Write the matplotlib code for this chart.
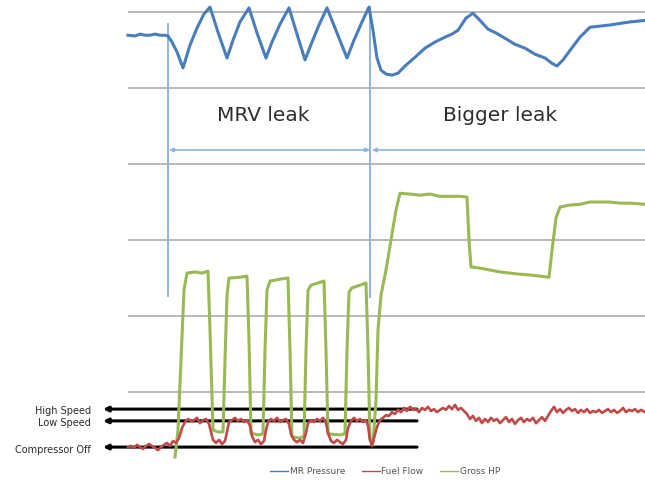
import matplotlib
matplotlib.use("Agg")
import matplotlib.pyplot as plt

# time axis is in samples, all traces share one 0-100 scale
grid_levels = [0, 20, 40, 60, 80, 100]

mr_t = [0, 7, 12, 17, 22, 27, 32, 37, 40, 44, 49, 55, 62, 69, 76, 82, 90, 99, 105, 112,
        121, 129, 138, 144, 152, 161, 169, 177, 184, 191, 199, 209, 219, 226, 234, 241,
        245, 249, 253, 258, 264, 270, 277, 287, 297, 307, 317, 324, 330, 338, 345, 352,
        360, 368, 377, 387, 397, 407, 417, 424, 429, 435, 442, 452, 462, 472, 482, 492,
        502, 510, 517]
mr_pressure = [93.9, 93.7, 94.2, 93.9, 93.9, 94.2, 93.9, 93.9, 93.7, 92.1, 89.5, 85.3, 91.3,
               95.8, 99.5, 101.3, 94.7, 87.9, 92.6, 97.4, 101.1, 94.5, 87.9, 92.1, 96.8,
               101.1, 94.2, 87.4, 92.1, 96.6, 101.1, 94.5, 87.9, 92.6, 97.4, 101.3, 95.2,
               87.9, 84.7, 83.7, 83.4, 83.9, 85.8, 88.1, 90.5, 92.1, 93.4, 94.2, 95.2, 98.4,
               99.7, 97.8, 95.5, 94.5, 93.1, 91.5, 90.5, 88.9, 87.9, 86.5, 85.8, 87.4, 89.9,
               93.4, 96.0, 96.3, 96.6, 97.0, 97.4, 97.6, 97.8]

fuel_t = [0, 3, 6, 9, 12, 15, 18, 21, 24, 27, 30, 33, 36, 39, 42, 45, 48, 51, 54, 57, 60,
          63, 66, 69, 72, 75, 78, 81, 83, 85, 88, 91, 94, 97, 99, 101, 104, 107, 110, 113,
          116, 119, 122, 124, 127, 130, 133, 136, 138, 140, 143, 146, 149, 152, 155, 158,
          161, 163, 166, 169, 172, 175, 178, 180, 183, 186, 189, 192, 195, 198, 200, 203,
          206, 209, 212, 215, 218, 220, 223, 226, 229, 232, 235, 238, 240, 242, 244, 246,
          249, 252, 255, 258, 261, 264, 267, 270, 273, 276, 279, 282, 285, 288, 291, 294,
          297, 300, 303, 306, 309, 312, 315, 318, 321, 324, 327, 330, 333, 336, 339, 342,
          345, 348, 351, 354, 357, 360, 363, 366, 369, 372, 375, 378, 381, 384, 387, 390,
          393, 396, 399, 402, 405, 408, 411, 414, 417, 420, 423, 426, 429, 432, 435, 438,
          441, 444, 447, 450, 453, 456, 459, 462, 465, 468, 471, 474, 477, 480, 483, 486,
          489, 492, 495, 498, 501, 504, 507, 510, 513, 517]
fuel_flow = [-14.5, -14.2, -14.7, -13.9, -14.5, -15.0, -14.2, -13.7, -14.2, -14.7, -15.3,
             -14.5, -13.9, -13.4, -14.2, -12.9, -13.4, -12.1, -9.5, -7.9, -7.1, -7.6, -7.4,
             -6.8, -8.2, -7.4, -7.1, -8.4, -10.5, -12.6, -13.4, -12.6, -13.7, -12.9, -10.5,
             -7.9, -7.4, -6.8, -7.6, -7.1, -7.9, -7.4, -8.9, -11.6, -13.2, -12.6, -13.7,
             -12.9, -10.0, -7.9, -7.1, -7.6, -6.8, -7.9, -7.4, -7.1, -8.4, -11.1, -12.6,
             -13.2, -12.6, -13.4, -10.8, -8.2, -7.4, -7.9, -7.1, -7.6, -6.8, -8.2, -10.8,
             -12.9, -13.4, -12.6, -13.2, -13.7, -12.6, -9.5, -7.6, -6.8, -7.6, -7.1, -7.9,
             -7.4, -8.9, -12.6, -14.2, -12.1, -9.2, -7.4, -6.8, -6.1, -6.3, -5.3, -5.8,
             -4.7, -5.3, -4.2, -5.0, -3.9, -4.7, -4.5, -5.3, -4.2, -4.7, -3.9, -5.0, -4.5,
             -5.3, -4.7, -4.2, -4.7, -3.7, -4.5, -3.4, -4.7, -4.2, -5.0, -5.8, -7.1, -6.3,
             -7.6, -6.8, -8.2, -7.1, -7.9, -6.8, -7.6, -7.1, -8.2, -7.4, -6.6, -7.9, -7.1,
             -8.4, -7.4, -6.8, -7.9, -7.1, -7.6, -6.8, -8.2, -7.4, -6.6, -7.6, -6.3, -5.0,
             -3.9, -5.3, -4.5, -5.5, -4.7, -4.2, -5.0, -4.5, -5.5, -4.7, -5.3, -4.5, -5.5,
             -5.0, -5.3, -4.7, -5.5, -5.0, -4.5, -5.3, -4.7, -5.5, -5.0, -4.2, -5.3, -4.7,
             -5.0, -4.5, -5.3, -4.7, -5.3]

hp_t = [47, 50, 53, 56, 59, 67, 74, 80, 82, 85, 90, 95, 97, 99, 101, 112, 119, 121, 123,
        130, 135, 137, 139, 142, 152, 160, 162, 164, 172, 176, 178, 180, 183, 190, 196,
        198, 200, 212, 217, 219, 221, 224, 232, 238, 240, 242, 245, 248, 250, 253, 258,
        263, 268, 272, 282, 292, 302, 312, 322, 332, 339, 341, 343, 352, 362, 372, 382,
        392, 402, 412, 421, 424, 428, 432, 442, 452, 462, 472, 482, 492, 502, 517]
gross_hp = [-17.1, -10.0, 8.4, 26.8, 31.3, 31.6, 31.3, 31.8, 16.3, -10.0, -10.5, -10.5,
            8.4, 25.5, 30.0, 30.2, 30.5, 13.7, -10.8, -11.3, -11.0, 11.0, 26.8, 29.2, 29.7,
            30.0, 11.0, -11.8, -12.1, -11.6, 11.0, 26.8, 28.1, 28.7, 29.2, 11.0, -11.0,
            -11.3, -11.0, 11.0, 26.3, 27.4, 28.1, 28.7, 11.0, -12.6, -13.4, -2.1, 16.3,
            25.5, 32.1, 40.0, 47.9, 52.3, 52.1, 51.8, 52.1, 51.5, 51.5, 51.5, 51.3, 40.0,
            32.9, 32.6, 32.1, 31.6, 31.3, 31.0, 30.8, 30.5, 30.2, 37.3, 45.8, 48.7, 49.2,
            49.4, 50.0, 50.0, 50.0, 49.7, 49.7, 49.4]

speed_labels = ["High Speed", "Low Speed", "Compressor Off"]
speed_levels = [-4.5, -7.6, -14.5]
label_levels = [-5.0, -8.2, -15.3]

leak_starts = [40, 242]
leak_names = ["MRV leak", "Bigger leak"]

BLUE = "#4a7ebb"
RED = "#be4b48"
GREEN = "#98b954"
MARK = "#8eb4e3"

fig = plt.figure(figsize=(6.45, 4.8), dpi=100)
ax = fig.add_axes([0, 0, 1, 1])
ax.set_xlim(-128, 517)
ax.set_ylim(-23.16, 103.17)
ax.axis("off")

ax.hlines(grid_levels, 0, 517, color="#adadad", lw=1.2, zorder=1)

# event markers and span arrows
ax.vlines(leak_starts[0], 25.0, 97.1, color=MARK, lw=1.4, zorder=2)
ax.vlines(leak_starts[1], 24.7, 101.6, color=MARK, lw=1.4, zorder=2)
ax.annotate("", xy=(leak_starts[0] + 1, 63.7), xytext=(leak_starts[1], 63.7),
            arrowprops=dict(arrowstyle="<|-|>", color=MARK, lw=1.2, mutation_scale=6,
                            shrinkA=0, shrinkB=0))
ax.annotate("", xy=(leak_starts[1] + 2, 63.7), xytext=(517, 63.7),
            arrowprops=dict(arrowstyle="-|>", color=MARK, lw=1.2, mutation_scale=6,
                            shrinkA=0, shrinkB=0), annotation_clip=False)
ax.text(135, 72.9, leak_names[0], fontsize=14.5, color="#2e2e2e", ha="center", va="center")
ax.text(372, 72.9, leak_names[1], fontsize=14.5, color="#2e2e2e", ha="center", va="center")

ax.plot(mr_t, mr_pressure, color=BLUE, lw=2.2, label="MR Pressure", zorder=4)
ax.plot(fuel_t, fuel_flow, color=RED, lw=1.9, label="Fuel Flow", zorder=5)
ax.plot(hp_t, gross_hp, color=GREEN, lw=2.2, label="Gross HP", zorder=4)

# compressor state reference lines
for name, lev, ly in zip(speed_labels, speed_levels, label_levels):
    ax.annotate("", xy=(-25, lev), xytext=(289, lev),
                arrowprops=dict(arrowstyle="-|>", color="black", lw=2.2, mutation_scale=7,
                                shrinkA=0, shrinkB=0), zorder=3)
    ax.text(-37, ly, name, fontsize=7, color="#2a2a2a", ha="right", va="center")

ax.legend(loc="center", bbox_to_anchor=(0.597, 0.017), ncol=3, frameon=False,
          fontsize=6.5, handlelength=2.0, handletextpad=0.2, columnspacing=1.8,
          labelcolor="#555555")
for line in ax.get_legend().get_lines():
    line.set_linewidth(1.0)

fig.savefig("out.png", dpi=100)
